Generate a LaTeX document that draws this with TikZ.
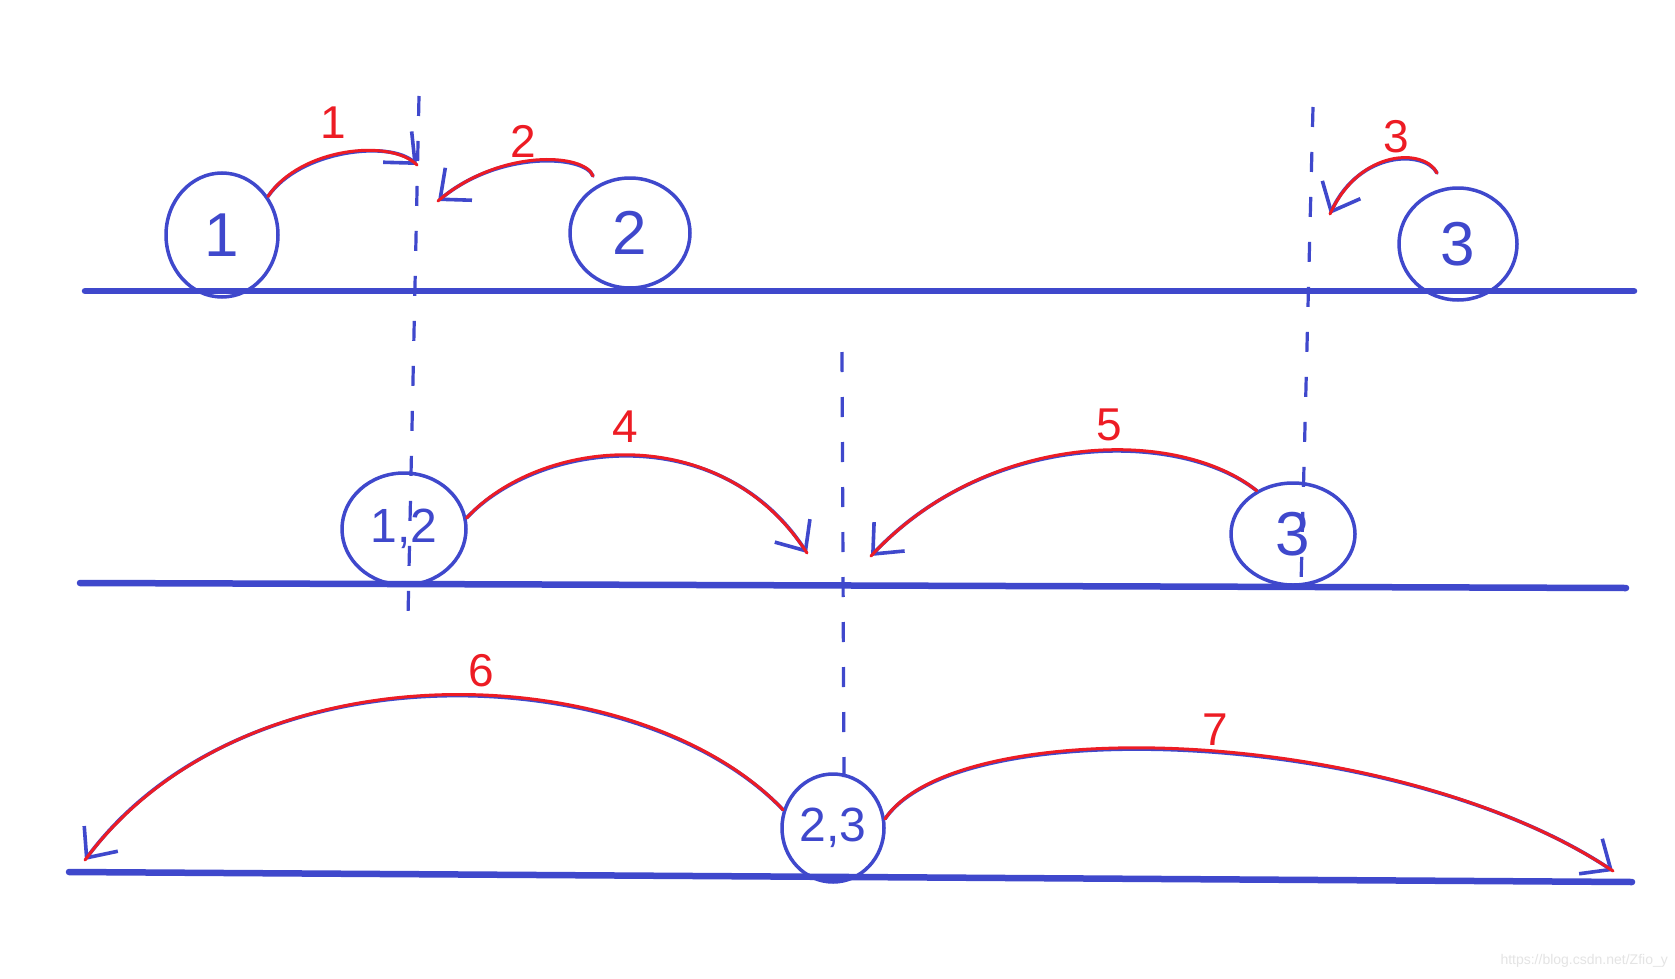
\documentclass[tikz,border=0pt]{standalone}
\usepackage{fontspec}
\setmainfont{Liberation Sans}
\usetikzlibrary{shapes.geometric,arrows.meta}
\definecolor{penblue}{HTML}{3F48CC}
\definecolor{penred}{HTML}{ED1C24}
\definecolor{wm}{HTML}{E4E4E4}
\tikzset{
  ground/.style={penblue, line width=6.5pt, line cap=round},
  dashline/.style={penblue, line width=3.2pt, dash pattern=on 20pt off 25pt},
  ball/.style={ellipse, draw=penblue, line width=3.5pt, inner sep=0pt, text=penblue},
  jump/.style={penblue, line width=3.6pt, line cap=round, -{Straight Barb[length=24pt,width=42pt,line width=3.6pt]}},
  jumpred/.style={penred, line width=3pt, line cap=round, yshift=2pt},
  lab/.style={text=penred, font=\fontsize{46}{46}\selectfont, inner sep=0pt},
  big/.style={font=\fontsize{62}{62}\selectfont},
  mid/.style={font=\fontsize{48}{48}\selectfont}
}
\begin{document}
\begin{tikzpicture}[x=1pt,y=-1pt]
\useasboundingbox[fill=white] (0,0) rectangle (1675,979);
% ground lines
\coordinate (g1a) at (85,291);  \coordinate (g1b) at (1634,291);
\coordinate (g2a) at (80,583);  \coordinate (g2b) at (1626,588);
\coordinate (g3a) at (69,872);  \coordinate (g3b) at (1632,882);
\draw[ground] (g1a) -- (g1b);
\draw[ground] (g2a) -- (g2b);
\draw[ground] (g3a) -- (g3b);
% dashed verticals
\coordinate (d1t) at (419,96);   \coordinate (d1b) at (408,617);
\coordinate (d2t) at (1313,107); \coordinate (d2b) at (1301,585);
\coordinate (d3t) at (842,352);  \coordinate (d3b) at (844,780);
\draw[dashline] (d1t) -- (d1b);
\draw[dashline] (d2t) -- (d2b);
\draw[dashline] (d3t) -- (d3b);
% balls
\node[ball, big, minimum width=112pt, minimum height=124pt] (c1) at (222,235) {1};
\node[ball, big, minimum width=120pt, minimum height=110pt] (c2) at (630,233) {2};
\node[ball, big, minimum width=118pt, minimum height=112pt] (c3) at (1458,244) {3};
\node[ball, mid, minimum width=124pt, minimum height=112pt] (c12) at (404,529) {1,2};
\node[ball, big, minimum width=124pt, minimum height=102pt] (c3b) at (1293,534) {3};
\node[ball, mid, minimum width=102pt, minimum height=108pt] (c23) at (833,828) {2,3};
% jump end points and free starts
\coordinate (e1) at (417,165);
\coordinate (s2) at (593,176); \coordinate (e2) at (438,201);
\coordinate (s3) at (1437,173); \coordinate (e3) at (1330,214);
\coordinate (e4) at (807,553);
\coordinate (e5) at (871,556);
\coordinate (e6) at (85,860);
\coordinate (e7) at (1613,871);
% jump 1
\draw[jump] (c1.40) .. controls (300,150) and (390,140) .. (e1);
\draw[jumpred] (c1.40) .. controls (300,150) and (390,140) .. (e1);
% jump 2
\draw[jump] (s2) .. controls (585,155) and (500,150) .. (e2);
\draw[jumpred] (s2) .. controls (585,155) and (500,150) .. (e2);
% jump 3
\draw[jump] (s3) .. controls (1425,150) and (1360,150) .. (e3);
\draw[jumpred] (s3) .. controls (1425,150) and (1360,150) .. (e3);
% jump 4
\draw[jump] (c12.10) .. controls (540,440) and (720,420) .. (e4);
\draw[jumpred] (c12.10) .. controls (540,440) and (720,420) .. (e4);
% jump 5
\draw[jump] (c3b.130) .. controls (1180,430) and (990,430) .. (e5);
\draw[jumpred] (c3b.130) .. controls (1180,430) and (990,430) .. (e5);
% jump 6
\draw[jump] (c23.160) .. controls (640,660) and (250,640) .. (e6);
\draw[jumpred] (c23.160) .. controls (640,660) and (250,640) .. (e6);
% jump 7
\draw[jump] (c23.10) .. controls (960,710) and (1400,730) .. (e7);
\draw[jumpred] (c23.10) .. controls (960,710) and (1400,730) .. (e7);
% labels
\node[lab] (l1) at (333,123) {1};
\node[lab] (l2) at (523,141) {2};
\node[lab] (l3) at (1396,137) {3};
\node[lab] (l4) at (625,427) {4};
\node[lab] (l5) at (1109,425) {5};
\node[lab] (l6) at (481,671) {6};
\node[lab] (l7) at (1215,730) {7};
% watermark
\node[text=wm, font=\fontsize{14}{14}\selectfont, anchor=east, inner sep=0pt] (wmk) at (1668,961) {https://blog.csdn.net/Zfio\_y};
\end{tikzpicture}
\end{document}
